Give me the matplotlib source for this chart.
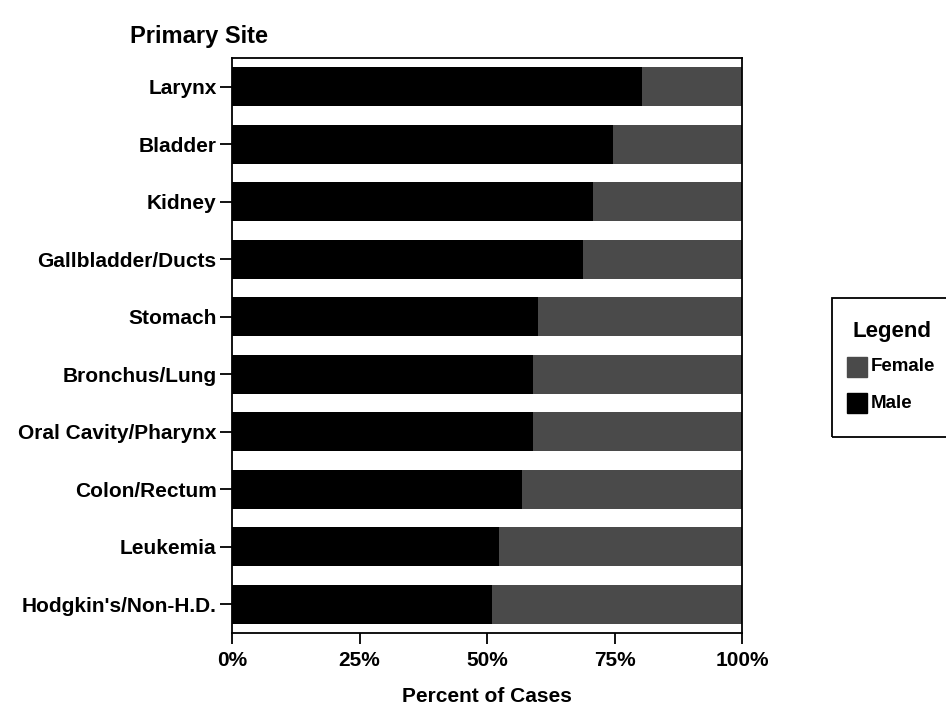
import numpy as np
import matplotlib.pyplot as plt
from matplotlib.patches import Rectangle

plt.rcParams['font.family'] = ['Liberation Sans', 'DejaVu Sans']
plt.rcParams['font.weight'] = 'bold'

# data (top to bottom)
sites = ['Larynx', 'Bladder', 'Kidney', 'Gallbladder/Ducts', 'Stomach',
         'Bronchus/Lung', 'Oral Cavity/Pharynx', 'Colon/Rectum', 'Leukemia',
         "Hodgkin's/Non-H.D."]
male_pct = [80.4, 74.7, 70.8, 68.8, 60.0, 59.0, 59.0, 56.9, 52.4, 51.0]
female_pct = [100 - m for m in male_pct]

male_color = '#000000'
female_color = '#4a4a4a'

fig = plt.figure(figsize=(9.46, 7.14), dpi=100)
ax = fig.add_axes([232/946, 1 - 633/714, 510/946, 575/714])

y = np.arange(len(sites))
ax.barh(y, male_pct, height=0.67, color=male_color, label='Male')
ax.barh(y, female_pct, left=male_pct, height=0.67, color=female_color, label='Female')

ax.set_xlim(0, 100)
ax.set_ylim(len(sites) - 0.5, -0.5)
ax.set_yticks(y)
ax.set_yticklabels(sites, fontsize=15, fontweight='bold')
ax.set_xticks([0, 25, 50, 75, 100])
ax.set_xticklabels(['0%', '25%', '50%', '75%', '100%'], fontsize=15, fontweight='bold')
ax.tick_params(axis='y', direction='out', length=9, width=1.3, pad=2)
ax.tick_params(axis='x', direction='out', length=8, width=1.3, pad=5)
for s in ax.spines.values():
    s.set_linewidth(1.3)

ax.set_xlabel('Percent of Cases', fontsize=15, fontweight='bold', va='center')
ax.xaxis.set_label_coords(0.5, -(697 - 633) / 575)
fig.text(130/946, 1 - 36/714, 'Primary Site', fontsize=17, fontweight='bold',
         ha='left', va='center')

# legend box, running off the right edge
fig.add_artist(Rectangle((832/946, 1 - 437/714), 130/946, 139/714,
                         transform=fig.transFigure, fill=False, lw=1.3, ec='black'))
fig.text(892/946, 1 - 331/714, 'Legend', fontsize=16, fontweight='bold',
         ha='center', va='center')
for i, (lab, col) in enumerate([('Female', female_color), ('Male', male_color)]):
    yy = 367 + i * 36
    fig.add_artist(Rectangle((847/946, 1 - (yy + 10)/714), 20/946, 20/714,
                             transform=fig.transFigure, color=col))
    fig.text(871/946, 1 - yy/714, lab, fontsize=13.5, fontweight='bold',
             ha='left', va='center')

plt.savefig('out.png', dpi=100)
